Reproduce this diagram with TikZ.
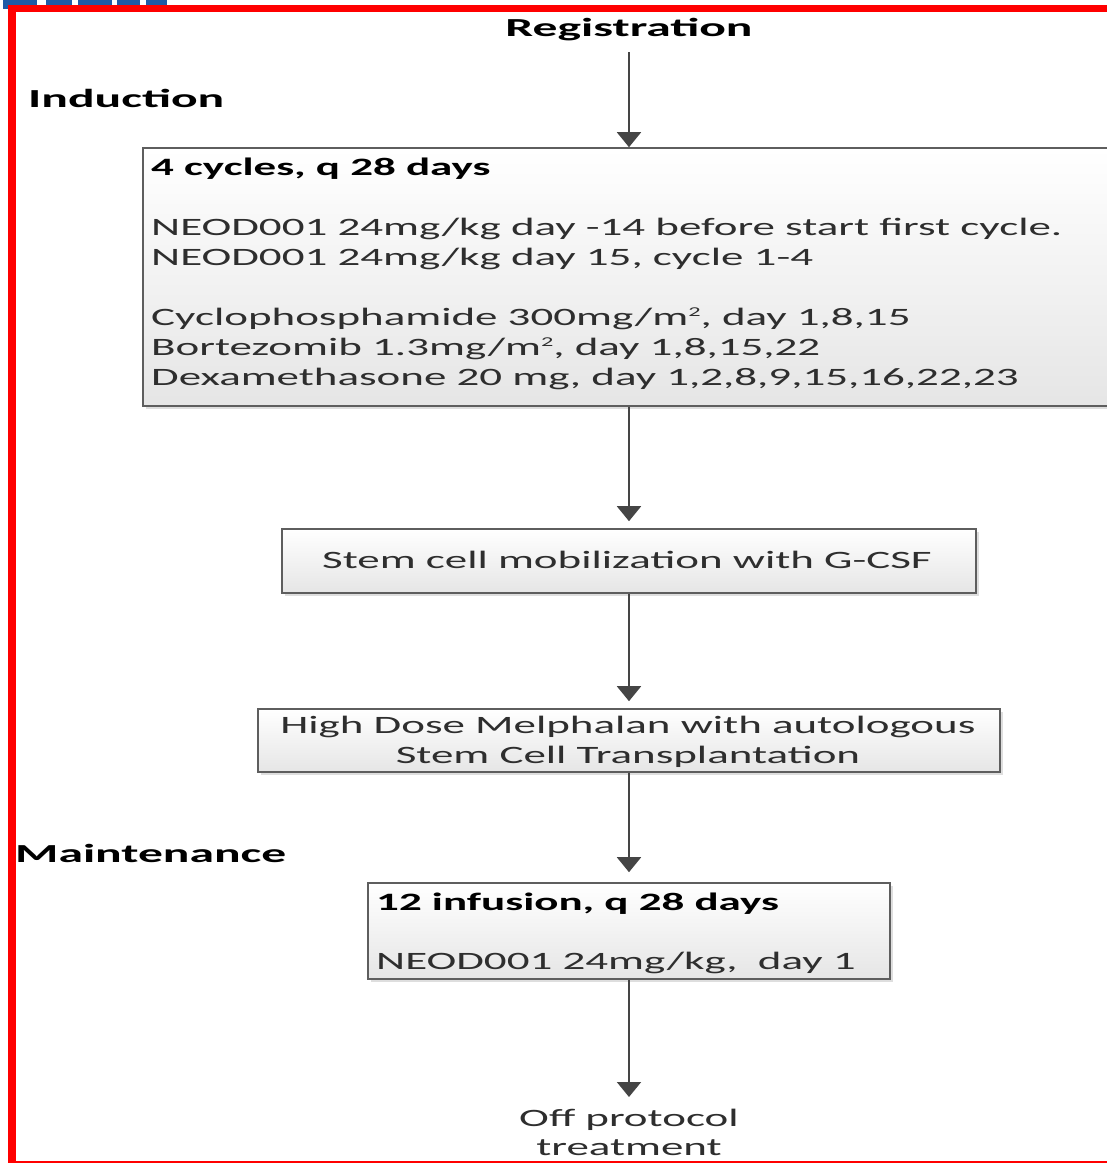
\documentclass[tikz,border=0pt]{standalone}
\usepackage{fontspec}
\setmainfont{Carlito}
\usepackage{graphicx}
\usetikzlibrary{arrows.meta,shadows}
\newlength\reflen
\newcommand\tx[1]{\scalebox{\sxf}[1]{#1}}
\newcommand\txb[1]{\scalebox{\sxb}[1]{#1}}
\newcommand\sqr{\raisebox{9.5pt}{\fontsize{13.5}{14}\selectfont 2}}
\definecolor{framered}{HTML}{FF0000}
\definecolor{fragblue}{HTML}{1F5AA6}
\definecolor{linegray}{HTML}{454545}
\definecolor{boxgray}{HTML}{5E5E5E}
\begin{document}
\settowidth\reflen{\fontsize{25}{30}\selectfont NEOD001 24mg/kg day -14 before start first cycle.}%
\pgfmathsetmacro\sxf{911/\reflen}%
\pgfmathsetmacro\sxb{\sxf*1.06}%
\begin{tikzpicture}[x=1pt,y=-1pt,
  lbl/.style={inner sep=0pt, anchor=base west, font=\fontsize{25}{30}\selectfont\bfseries, text=black},
  biglbl/.style={inner sep=0pt, anchor=base west, font=\fontsize{26}{30}\selectfont\bfseries, text=black},
  txt/.style={inner sep=0pt, anchor=base west, font=\fontsize{25}{30}\selectfont, text=black!82},
  ctxt/.style={inner sep=0pt, anchor=base, font=\fontsize{25}{30}\selectfont, text=black!82},
  boxst/.style={draw=boxgray, line width=1.6pt, top color=white, bottom color=black!10,
     drop shadow={shadow xshift=3pt, shadow yshift=-3pt, fill=black!25, opacity=0.5}},
  arr/.style={draw=linegray, line width=1.9pt, -{Triangle[width=24pt,length=15pt]}}]
\useasboundingbox (0,0) rectangle (1107,1163);
\fill[white] (0,0) rectangle (1107,1163);
% blue fragment at top-left
\foreach \a/\b in {3/37,46/72,78/112,117/140,146/167}{\fill[fragblue] (\a,0) rectangle (\b,9);}
% red frame
\fill[framered] (8,5) rectangle (1107,12);
\fill[framered] (8,5) rectangle (16,1163);
\fill[framered] (8,1160.5) rectangle (1107,1163);
% boxes
\node[boxst, minimum width=982pt, minimum height=258pt] (b1) at (634,277) {};
\node[boxst, minimum width=694pt, minimum height=64pt] (b2) at (629,561) {};
\node[boxst, minimum width=742pt, minimum height=63pt] (b3) at (629,740.5) {};
\node[boxst, minimum width=522pt, minimum height=96pt] (b4) at (629,931) {};
% labels
\node[biglbl, anchor=base, text depth=16pt] (reg) at (629,36) {\txb{Registration}};
\node[biglbl] (ind) at (28,107.5) {\txb{Induction}};
\node[biglbl] (mai) at (15,862) {\txb{Maintenance}};
% box 1 text
\node[lbl] (t1) at (151,175.5) {\tx{4 cycles, q 28 days}};
\node[txt] (t2) at (151,235.5) {\tx{NEOD001 24mg/kg day -14 before start first cycle.}};
\node[txt] (t3) at (151,265.5) {\tx{NEOD001 24mg/kg day 15, cycle 1-4}};
\node[txt] (t4) at (151,325.5) {\tx{Cyclophosphamide 300mg/m\sqr, day 1,8,15}};
\node[txt] (t5) at (151,355.5) {\tx{Bortezomib 1.3mg/m\sqr, day 1,8,15,22}};
\node[txt] (t6) at (151,385.5) {\tx{Dexamethasone 20 mg, day 1,2,8,9,15,16,22,23}};
% box 2 text
\node[ctxt] (s1) at (627,568.5) {\tx{Stem cell mobilization with G-CSF}};
% box 3 text
\node[ctxt] (h1) at (628,733.5) {\tx{High Dose Melphalan with autologous}};
\node[ctxt] (h2) at (628,763.5) {\tx{Stem Cell Transplantation}};
% box 4 text
\node[lbl] (m1) at (376,910) {\tx{12 infusion, q 28 days}};
\node[txt] (m2) at (376,969) {\tx{NEOD001 24mg/kg,\ \ day 1}};
% end text
\node[ctxt, align=center, anchor=north, inner sep=0pt] (off) at (629,1109) {\tx{Off protocol}\\[-1pt]\tx{treatment}};
% connectors
\draw[arr] (reg.south) -- (reg.south |- b1.north);
\draw[arr, shorten >=7pt] (b2.north |- b1.south) -- (b2.north);
\draw[arr, shorten >=7pt] (b3.north |- b2.south) -- (b3.north);
\draw[arr, shorten >=10pt] (b4.north |- b3.south) -- (b4.north);
\draw[arr, shorten >=12pt] (b4.south) -- (b4.south |- off.north);
\end{tikzpicture}
\end{document}
